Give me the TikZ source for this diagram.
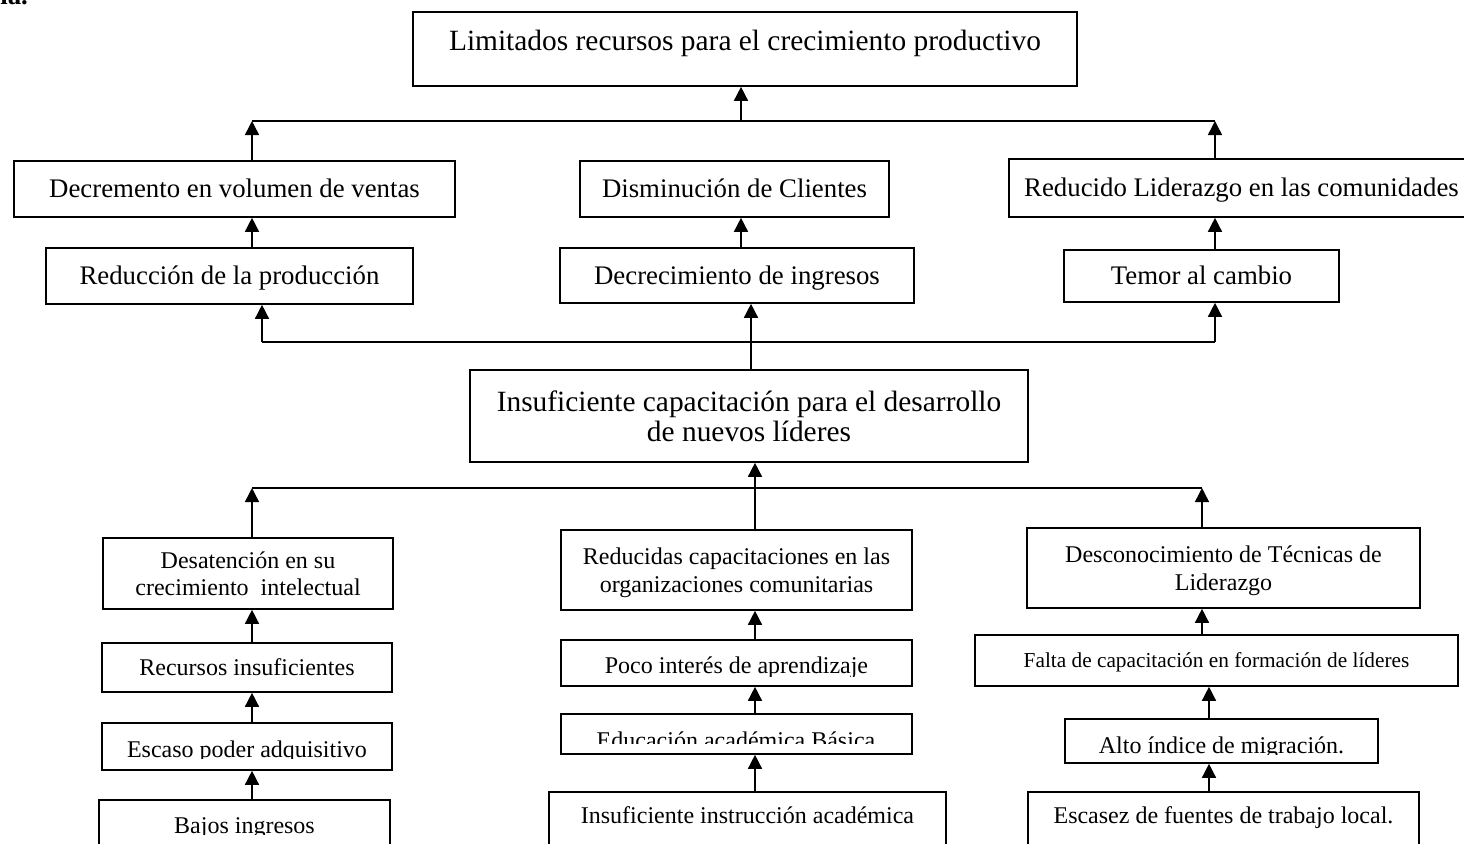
\documentclass[tikz,border=0pt]{standalone}
\usepackage{fontspec}
\setmainfont{Liberation Serif}
\usetikzlibrary{arrows.meta}

\begin{document}
\begin{tikzpicture}[x=0.5pt,y=-0.5pt,
  cbox/.style={draw,line width=0.8pt,rectangle,inner sep=0pt,align=center,text depth=0pt},
  fbig/.style={font=\fontsize{14.7}{15.2}\selectfont},
  fmid/.style={font=\fontsize{13.4}{15}\selectfont},
  fsml/.style={font=\fontsize{12}{13.7}\selectfont},
  fxs/.style={font=\fontsize{10.65}{12}\selectfont},
  capht/.style={text height=#1,text depth=0pt},
  arr/.style={-{Triangle[width=7pt,length=7pt]},line width=0.75pt},
  ln/.style={line width=0.75pt}]
  \useasboundingbox (0,0) rectangle (1464,843);

  % cut-off caption at the top
  \node[anchor=base west,inner sep=0pt,font=\bfseries\fontsize{13.4}{15}\selectfont] (corte) at (0,4) {ia.};

  % Effects
  \node[cbox,fbig,minimum width=332pt,text height=19pt,text depth=18pt] (limitados) at (745,49) {Limitados recursos para el crecimiento productivo};
  \node[cbox,fmid,capht=8.9pt,minimum width=220.5pt,minimum height=28pt] (ventas) at (234.5,189) {Decremento en volumen de ventas};
  \node[cbox,fmid,capht=8.9pt,minimum width=154.5pt,minimum height=28pt] (clientes) at (734.5,189) {Disminución de Clientes};
  \node[cbox,fmid,capht=8.9pt,minimum width=232.5pt,minimum height=29pt] (liderazgo) at (1241.5,188) {Reducido Liderazgo en las comunidades};
  \node[cbox,fmid,capht=8.9pt,minimum width=183.5pt,minimum height=28pt] (reduccion) at (229.5,276) {Reducción de la producción};
  \node[cbox,fmid,capht=8.9pt,minimum width=177pt,minimum height=27.5pt] (decrec) at (737,275.5) {Decrecimiento de ingresos};
  \node[cbox,fmid,capht=8.9pt,minimum width=137.5pt,minimum height=26pt] (temor) at (1201.5,276) {Temor al cambio};

  % Problem
  \node[cbox,fbig,minimum width=279pt,minimum height=46pt] (problema) at (749,416) {Insuficiente capacitación para el desarrollo\\de nuevos líderes};

  % Causes, left
  \node[cbox,fsml,minimum width=145pt,minimum height=35.5pt] (desatencion) at (248,573.5) {Desatención en su\\crecimiento \ intelectual};
  \node[cbox,fsml,capht=7.9pt,minimum width=145pt,minimum height=24.5pt] (recursos) at (247,667.5) {Recursos insuficientes};
  \node[cbox,minimum width=145pt,minimum height=23.5pt] (escaso) at (247,746.5) {};
  \begin{scope}
    \clip (escaso.north west) rectangle (392,758);
    \node[fsml,anchor=base] (escasotxt) at (247,757) {Escaso poder adquisitivo};
  \end{scope}
  \node[cbox,minimum width=145.5pt,minimum height=30pt] (bajos) at (244.5,830) {};
  \begin{scope}
    \clip (bajos.north west) rectangle (390,834);
    \node[fsml,anchor=base] (bajostxt) at (244.5,833) {Bajos ingresos};
  \end{scope}

  % Causes, middle
  \node[cbox,fsml,minimum width=175.5pt,minimum height=40pt] (reducidas) at (736.5,570) {Reducidas capacitaciones en las\\organizaciones comunitarias};
  \node[cbox,minimum width=175.5pt,minimum height=23pt] (poco) at (736.5,663) {};
  \begin{scope}
    \clip (poco.north west) rectangle (912,676);
    \node[fsml,anchor=base] (pocotxt) at (736.5,673) {Poco interés de aprendizaje};
  \end{scope}
  \node[cbox,minimum width=175.5pt,minimum height=20pt] (educacion) at (736.5,734) {};
  \begin{scope}
    \clip (educacion.north west) rectangle (912,743);
    \node[fsml,anchor=base] (educaciontxt) at (736,748) {Educación académica Básica};
  \end{scope}
  \node[cbox,fsml,text height=15.5pt,text depth=18.5pt,minimum width=198.5pt] (instruccion) at (747.5,826) {Insuficiente instrucción académica};

  % Causes, right
  \node[cbox,fsml,minimum width=196.5pt,minimum height=40pt] (desconoc) at (1223.5,568) {Desconocimiento de Técnicas de\\Liderazgo};
  \node[cbox,fxs,capht=7.05pt,minimum width=241.5pt,minimum height=25.5pt] (falta) at (1216.5,660.5) {Falta de capacitación en formación de líderes};
  \node[cbox,minimum width=156.5pt,minimum height=22pt] (alto) at (1221.5,741) {};
  \begin{scope}
    \clip (alto.north west) rectangle (1378,754);
    \node[fsml,anchor=base] (altotxt) at (1221.5,753) {Alto índice de migración.};
  \end{scope}
  \node[cbox,fsml,text height=15.5pt,text depth=18.5pt,minimum width=195.5pt] (escasez) at (1223.5,826) {Escasez de fuentes de trabajo local.};

  % upper junction
  \coordinate (ta) at (252,121);
  \coordinate (tb) at (741,121);
  \coordinate (tc) at (1215,121);
  \draw[ln] (ta) -- (tc);
  \draw[arr] (tb) -- (tb |- limitados.south);
  \draw[arr] (ta |- ventas.north) -- (ta);
  \draw[arr] (tc |- liderazgo.north) -- (tc);
  \draw[arr] (ta |- reduccion.north) -- (ta |- ventas.south);
  \draw[arr] (tb |- decrec.north) -- (tb |- clientes.south);
  \draw[arr] (tc |- temor.north) -- (tc |- liderazgo.south);

  % middle junction
  \coordinate (ma) at (262,342);
  \coordinate (mb) at (751,342);
  \coordinate (mc) at (1215,342);
  \draw[ln] (ma) -- (mc);
  \draw[arr] (ma) -- (ma |- reduccion.south);
  \draw[arr] (mc) -- (mc |- temor.south);
  \draw[arr] (mb |- problema.north) -- (mb |- decrec.south);

  % lower junction
  \coordinate (ba) at (252,488);
  \coordinate (bb) at (755,488);
  \coordinate (bc) at (1202,488);
  \coordinate (bd) at (1209,488);
  \draw[ln] (ba) -- (bc);
  \draw[arr] (ba |- desatencion.north) -- (ba);
  \draw[arr] (bc |- desconoc.north) -- (bc);
  \draw[arr] (bb |- reducidas.north) -- (bb |- problema.south);

  % cause chains
  \draw[arr] (ba |- recursos.north) -- (ba |- desatencion.south);
  \draw[arr] (ba |- escaso.north) -- (ba |- recursos.south);
  \draw[arr] (ba |- bajos.north) -- (ba |- escaso.south);
  \draw[arr] (bb |- poco.north) -- (bb |- reducidas.south);
  \draw[arr] (bb |- educacion.north) -- (bb |- poco.south);
  \draw[arr] (bb |- instruccion.north) -- (bb |- educacion.south);
  \draw[arr] (bc |- falta.north) -- (bc |- desconoc.south);
  \draw[arr] (bd |- alto.north) -- (bd |- falta.south);
  \draw[arr] (bd |- escasez.north) -- (bd |- alto.south);
\end{tikzpicture}
\end{document}
